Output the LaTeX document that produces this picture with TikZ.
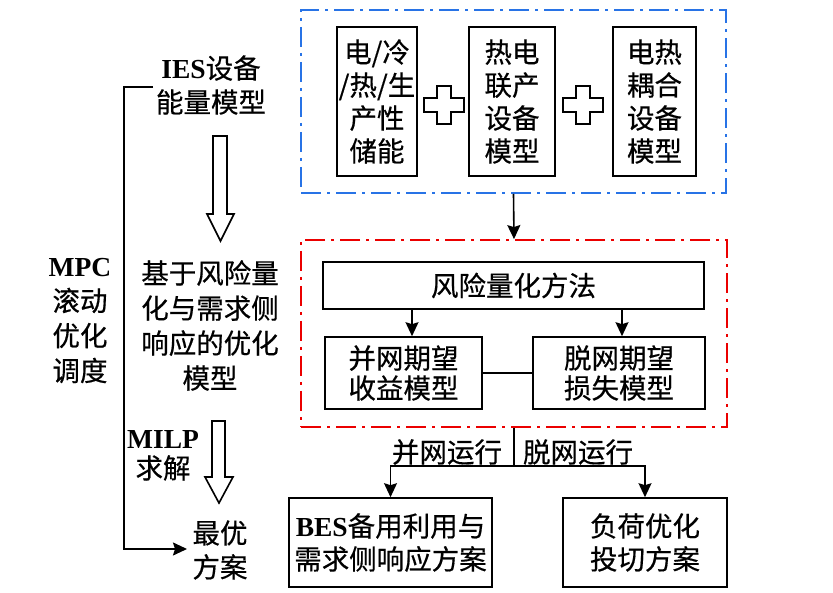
\documentclass[tikz,border=0pt]{standalone}
\usepackage{fontspec}
\setmainfont{Liberation Serif}
\newfontfamily\cjk[FakeBold=0.5]{Noto Sans CJK SC}
\usetikzlibrary{arrows.meta}
\definecolor{dblue}{RGB}{40,115,230}
\definecolor{dred}{RGB}{235,0,0}
\newcommand{\lat}[1]{{\rmfamily\bfseries #1}}
\tikzset{
 box/.style={draw, line width=1.6pt, inner sep=0pt},
 txt/.style={font=\fontsize{27.5}{33}\selectfont\cjk, align=center, inner sep=0pt},
 conn/.style={line width=1.6pt},
 arr/.style={conn, -{Stealth[length=14pt,width=13pt,inset=2pt]}},
 dd/.style={draw, line width=1.8pt, dash pattern=on 20pt off 6pt on 3pt off 6pt, inner sep=0pt},
 hollow/.style={draw, line width=1.6pt, fill=white, line join=miter},
}
\begin{document}
\begin{tikzpicture}[x=1pt,y=-1pt]
\useasboundingbox (0,0) rectangle (833,593);

% blue group
\node[dd, dblue, minimum width=425pt, minimum height=183pt] (blue) at (513.5,101.5) {};
\node[box, minimum width=80pt, minimum height=149pt, txt] (b1) at (377,101.5) {电/冷\\/热/生\\产性\\储能};
\node[box, minimum width=86pt, minimum height=149pt, txt] (b2) at (512,101.5) {热电\\联产\\设备\\模型};
\node[box, minimum width=83pt, minimum height=149pt, txt] (b3) at (654.5,101.5) {电热\\耦合\\设备\\模型};
\draw[hollow] (437,86) -- (451,86) -- (451,98) -- (464,98) -- (464,112) -- (451,112) -- (451,124) -- (437,124) -- (437,112) -- (424,112) -- (424,98) -- (437,98) -- cycle;
\draw[hollow] (576,86) -- (590,86) -- (590,98) -- (603,98) -- (603,112) -- (590,112) -- (590,124) -- (576,124) -- (576,112) -- (563,112) -- (563,98) -- (576,98) -- cycle;

% red group
\node[dd, dred, minimum width=426pt, minimum height=187pt] (red) at (514,333.5) {};
\node[box, minimum width=381pt, minimum height=47pt, txt] (method) at (513.5,285.5) {风险量化方法};
\node[box, minimum width=157pt, minimum height=72pt, txt, font=\fontsize{27.5}{30}\selectfont\cjk] (gp) at (403.5,373) {并网期望\\收益模型};
\node[box, minimum width=172pt, minimum height=72pt, txt, font=\fontsize{27.5}{30}\selectfont\cjk] (dp) at (619,373) {脱网期望\\损失模型};
\coordinate (xa) at (412,0);
\coordinate (xb) at (622,0);
\draw[arr] (method.south -| xa) -- (gp.north -| xa);
\draw[arr] (method.south -| xb) -- (dp.north -| xb);
\draw[conn] (gp.east) -- (dp.west);

\draw[arr] (blue.south) -- (red.north);

% bottom
\node[box, minimum width=203pt, minimum height=89pt, txt] (bes) at (390.5,542.5) {\lat{BES}备用利用与\\需求侧响应方案};
\node[box, minimum width=164pt, minimum height=89pt, txt] (lc) at (645,542.5) {负荷优化\\投切方案};
\coordinate (j) at (514,466);
\draw[conn] (red.south) -- (j);
\draw[arr] (j) -| (bes.north);
\draw[arr] (j) -| (lc.north);
\node[txt] (l1) at (447,452) {并网运行};
\node[txt] (l2) at (578,452) {脱网运行};

% left column
\node[txt, font=\fontsize{27.5}{34}\selectfont\cjk] (ies) at (211,85) {\lat{IES}设备\\能量模型};
\node[txt, font=\fontsize{27.5}{35}\selectfont\cjk] (opt) at (210,325.5) {基于风险量\\化与需求侧\\响应的优化\\模型};
\node[txt, font=\fontsize{27.5}{35}\selectfont\cjk] (mpc) at (80,320.5) {\lat{MPC}\\滚动\\优化\\调度};
\node[txt, font=\fontsize{27.5}{30}\selectfont\cjk] (milp) at (163,455.5) {\lat{MILP}\\求解};
\node[txt, font=\fontsize{27.5}{34}\selectfont\cjk] (best) at (220,550) {最优\\方案};

\draw[hollow] (213,136) -- (227,136) -- (227,214) -- (234,214) -- (220.5,241) -- (207,214) -- (213,214) -- cycle;
\draw[hollow] (212,421) -- (225,421) -- (225,477) -- (233,477) -- (219,503) -- (205,477) -- (212,477) -- cycle;

\coordinate (lt) at (153,87);
\coordinate (lc1) at (124,87);
\coordinate (tip) at (187,549);
\draw[arr] (lt) -- (lc1) |- (tip);
\end{tikzpicture}
\end{document}
